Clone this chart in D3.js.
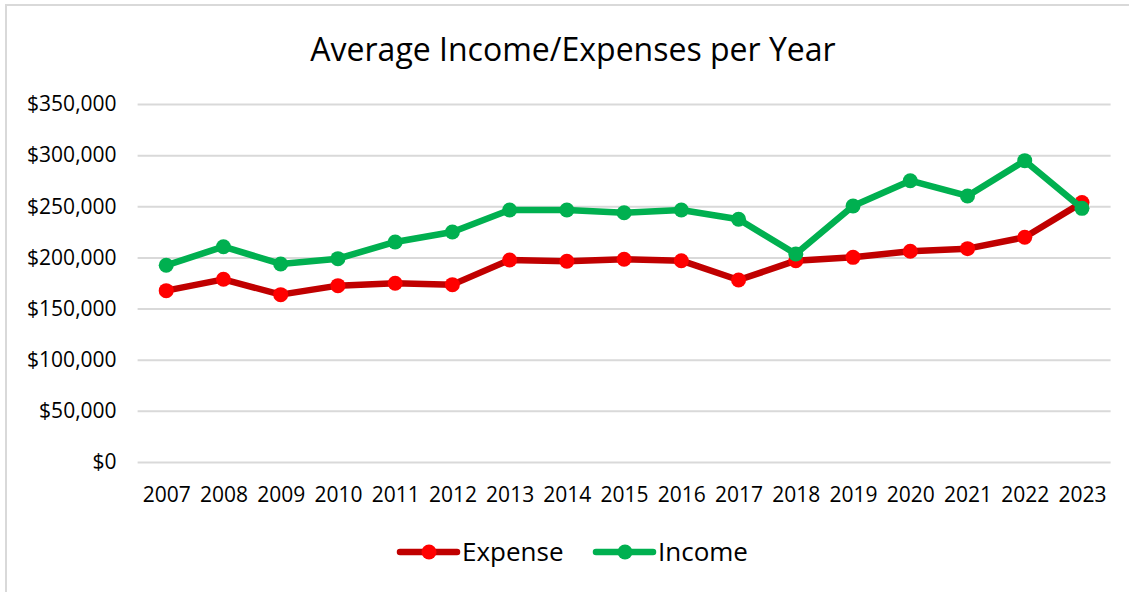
<!DOCTYPE html>
<html>
<head>
<meta charset="utf-8">
<script src="https://cdn.jsdelivr.net/npm/d3@7"></script>
<style>
  body { margin: 0; background: #fff; }
  text { font-family: "Open Sans", sans-serif; fill: #000; }
</style>
</head>
<body>
<svg id="chart"></svg>
<script>
const years = ["2007", "2008", "2009", "2010", "2011", "2012", "2013", "2014", "2015",
    "2016", "2017", "2018", "2019", "2020", "2021", "2022", "2023"];
const expense = [167500, 178600, 163600, 172400, 174700, 173400, 197500, 196200, 198200,
    196800, 177900, 196800, 200100, 206000, 208600, 219700, 253600];
const income = [192300, 210500, 193600, 198800, 215100, 224900, 246400, 246400, 243700,
    246400, 237300, 203400, 250300, 275000, 260100, 294600, 248000];
const yTicks = [0, 50000, 100000, 150000, 200000, 250000, 300000, 350000];

const width = 1129, height = 592;
const margin = { top: 104, right: 18.4, bottom: 130, left: 137.6 };

const svg = d3.select("#chart")
    .attr("width", width)
    .attr("height", height);

// chart border
svg.append("rect")
    .attr("x", 6)
    .attr("y", 5)
    .attr("width", width + 10)
    .attr("height", height + 10)
    .attr("fill", "#fff")
    .attr("stroke", "#d9d9d9")
    .attr("stroke-width", 2);

const x = d3.scalePoint()
    .domain(years)
    .range([margin.left, width - margin.right])
    .padding(0.5);

const y = d3.scaleLinear()
    .domain([0, 350000])
    .range([height - margin.bottom, margin.top]);

svg.append("text")
    .attr("x", 573)
    .attr("y", 61)
    .attr("text-anchor", "middle")
    .style("font-size", "32px")
    .text("Average Income/Expenses per Year");

// y axis, gridlines only
const yAxis = svg.append("g")
    .attr("transform", "translate(" + margin.left + ",0)")
    .call(d3.axisLeft(y)
        .tickValues(yTicks)
        .tickSize(-(width - margin.left - margin.right))
        .tickPadding(21)
        .tickFormat(d => "$" + d3.format(",")(d)));
yAxis.select(".domain").remove();
yAxis.selectAll(".tick line").attr("stroke", "#d9d9d9").attr("stroke-width", 2);
yAxis.selectAll(".tick text").style("font-size", "21px").attr("fill", "#000");

const xAxis = svg.append("g")
    .attr("transform", "translate(0," + (height - margin.bottom) + ")")
    .call(d3.axisBottom(x).tickSize(0).tickPadding(25));
xAxis.select(".domain").remove();
xAxis.selectAll(".tick text").style("font-size", "21px").attr("fill", "#000");

const series = [
    { name: "Expense", values: expense, line: "#c00000", dot: "#ff0000" },
    { name: "Income", values: income, line: "#00b050", dot: "#00b050" }
];

const line = d3.line()
    .x((d, i) => x(years[i]))
    .y(d => y(d));

series.forEach(s => {
    const g = svg.append("g");
    g.append("path")
        .datum(s.values)
        .attr("d", line)
        .attr("fill", "none")
        .attr("stroke", s.line)
        .attr("stroke-width", 6.5)
        .attr("stroke-linejoin", "round");
    g.selectAll("circle")
        .data(s.values)
        .enter()
        .append("circle")
        .attr("cx", (d, i) => x(years[i]))
        .attr("cy", d => y(d))
        .attr("r", 7.5)
        .attr("fill", s.dot);
});

// legend
const legendX = [400, 596];
const legend = svg.selectAll(".legend")
    .data(series)
    .enter()
    .append("g")
    .attr("class", "legend")
    .attr("transform", (d, i) => "translate(" + legendX[i] + ",552)");
legend.append("line")
    .attr("x1", 0)
    .attr("x2", 57)
    .attr("stroke", d => d.line)
    .attr("stroke-width", 6.5)
    .attr("stroke-linecap", "round");
legend.append("circle")
    .attr("cx", 29)
    .attr("r", 7.5)
    .attr("fill", d => d.dot);
legend.append("text")
    .attr("x", 62)
    .attr("dy", "0.35em")
    .style("font-size", "26px")
    .text(d => d.name);
</script>
</body>
</html>
